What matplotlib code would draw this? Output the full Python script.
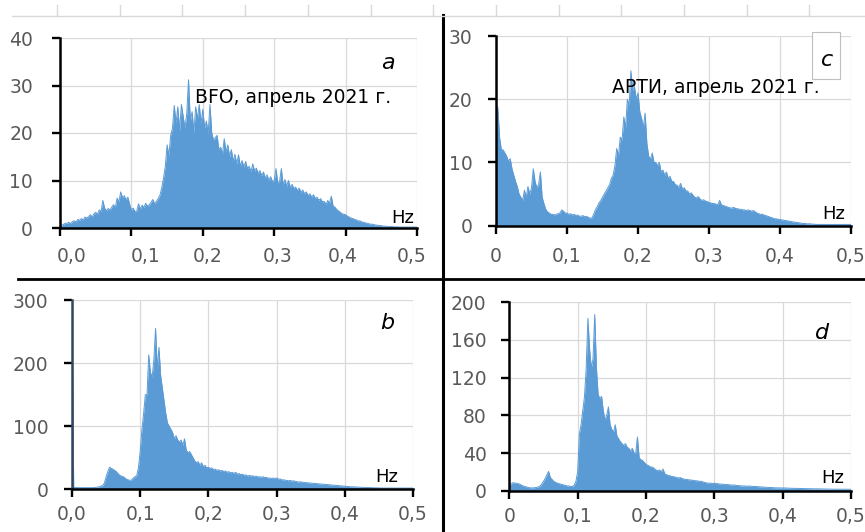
import matplotlib
matplotlib.use("Agg")
import matplotlib.pyplot as plt
import numpy as np
from matplotlib.lines import Line2D
from matplotlib.patches import Rectangle
from matplotlib.transforms import ScaledTranslation

plt.rcParams['font.family'] = ['DejaVu Sans']

# Spectral amplitude, sampled every 0.0025 Hz from 0 to 0.5 Hz
freq_step = 0.0025

amp_bfo = [
    0.3, 0.6, 0.8, 1.0, 1.0, 1.2, 0.9, 1.4,
    1.5, 1.3, 1.8, 1.6, 2.0, 1.7, 2.3, 2.1,
    2.4, 2.8, 2.3, 3.0, 3.3, 2.9, 3.8, 3.5,
    5.8, 4.2, 3.6, 4.1, 3.8, 4.4, 4.9, 4.3,
    6.3, 5.5, 7.6, 6.4, 6.8, 5.9, 6.5, 5.0,
    3.8, 4.2, 3.4, 3.6, 5.1, 4.0, 4.8, 4.3,
    5.2, 4.6, 4.9, 5.4, 6.0, 5.1, 5.6, 6.2,
    6.9, 8.5, 10.5, 13.0, 17.5, 15.2, 19.5, 21.0,
    25.8, 22.0, 25.5, 20.5, 26.0, 23.5, 21.0, 24.0,
    31.2, 22.5, 24.5, 20.0, 25.5, 23.0, 26.0, 22.0,
    25.0, 21.0, 22.5, 19.8, 26.0, 20.0, 18.5, 19.0,
    19.5, 16.5, 17.0, 15.5, 18.8, 16.0, 17.5, 15.0,
    16.5, 14.0, 15.5, 13.5, 15.4, 13.0, 14.2, 12.8,
    14.0, 12.5, 13.0, 11.8, 13.5, 12.0, 12.6, 11.5,
    12.1, 11.0, 11.8, 10.5, 11.2, 10.0, 10.8, 9.8,
    10.0, 12.5, 9.5, 9.8, 12.5, 9.0, 10.2, 8.8,
    10.0, 8.5, 9.2, 8.3, 8.6, 7.9, 8.4, 7.5,
    8.0, 7.2, 7.6, 6.8, 7.2, 6.5, 7.0, 6.2,
    6.5, 5.8, 6.2, 5.5, 5.6, 5.0, 5.8, 5.2,
    6.7, 4.6, 4.4, 3.9, 3.6, 3.3, 3.0, 2.9,
    2.8, 2.5, 2.3, 2.1, 2.0, 1.8, 1.7, 1.5,
    1.5, 1.3, 1.2, 1.1, 1.0, 0.9, 0.8, 0.8,
    0.7, 0.6, 0.6, 0.5, 0.5, 0.4, 0.4, 0.35,
    0.3, 0.3, 0.3, 0.25, 0.25, 0.25, 0.2, 0.2,
    0.2, 0.2, 0.2, 0.2, 0.2, 0.2, 0.2, 0.2,
    0.2,
]

amp_arti = [
    11.7, 18.8, 14.0, 12.0, 12.0, 11.5, 11.0, 10.2,
    10.6, 9.0, 8.0, 7.0, 6.2, 5.0, 4.5, 4.0,
    5.6, 4.5, 6.2, 5.0, 6.0, 9.0, 7.0, 6.0,
    6.5, 8.5, 4.5, 3.5, 2.6, 2.2, 2.0, 1.8,
    1.8, 1.7, 1.8, 1.9, 2.0, 2.5, 2.3, 2.0,
    2.0, 1.8, 1.9, 1.7, 1.8, 1.6, 1.7, 1.5,
    1.5, 1.6, 1.4, 1.5, 1.3, 1.2, 1.2, 1.8,
    2.5, 3.0, 3.6, 4.0, 4.5, 5.0, 5.5, 6.0,
    6.5, 7.5, 8.0, 9.5, 12.2, 11.0, 14.0, 13.5,
    17.2, 15.5, 20.0, 19.0, 24.5, 21.5, 22.0, 20.0,
    21.0, 18.0, 17.0, 15.5, 17.8, 13.0, 11.0, 10.5,
    11.5, 10.0, 10.0, 9.5, 10.0, 8.5, 8.8, 8.0,
    8.5, 7.5, 7.8, 7.0, 7.0, 6.5, 6.4, 6.0,
    6.7, 5.8, 6.0, 5.5, 5.5, 5.0, 5.2, 4.8,
    4.5, 4.4, 4.6, 4.2, 4.0, 4.1, 3.9, 3.8,
    3.7, 3.6, 3.5, 3.5, 3.4, 3.3, 4.0, 3.3,
    3.2, 3.1, 3.0, 2.9, 2.8, 2.8, 2.9, 2.7,
    2.7, 2.6, 2.6, 2.5, 2.5, 2.4, 2.5, 2.4,
    2.3, 2.4, 2.2, 2.0, 1.9, 1.8, 1.8, 1.7,
    1.6, 1.5, 1.4, 1.3, 1.2, 1.1, 1.1, 1.0,
    1.0, 0.9, 0.9, 0.8, 0.8, 0.7, 0.7, 0.6,
    0.6, 0.5, 0.5, 0.45, 0.4, 0.35, 0.35, 0.3,
    0.3, 0.3, 0.25, 0.25, 0.2, 0.2, 0.2, 0.2,
    0.2, 0.2, 0.2, 0.2, 0.2, 0.2, 0.2, 0.2,
    0.2, 0.2, 0.2, 0.2, 0.2, 0.2, 0.2, 0.2,
    0.2,
]

amp_b = [
    300.0, 3.0, 2.8, 2.6, 2.6, 2.5, 2.5, 2.5,
    2.5, 2.5, 2.5, 2.6, 2.6, 2.8, 3.0, 3.5,
    4.0, 5.0, 6.0, 10.0, 20.0, 28.0, 35.0, 33.0,
    32.0, 30.0, 28.0, 25.0, 22.0, 21.0, 20.0, 18.0,
    16.0, 15.0, 14.0, 15.0, 18.0, 20.0, 22.0, 35.0,
    60.0, 95.0, 120.0, 150.0, 150.0, 213.0, 185.0, 178.0,
    205.0, 255.0, 190.0, 225.0, 180.0, 160.0, 140.0, 120.0,
    105.0, 100.0, 95.0, 90.0, 80.0, 85.0, 78.0, 75.0,
    78.0, 70.0, 80.0, 62.0, 58.0, 60.0, 55.0, 50.0,
    45.0, 42.0, 44.0, 38.0, 42.0, 36.0, 38.0, 34.0,
    35.0, 33.0, 34.0, 31.0, 32.0, 30.0, 31.0, 29.0,
    30.0, 28.0, 29.0, 27.0, 28.0, 26.0, 27.0, 25.0,
    27.0, 24.0, 25.0, 23.0, 24.0, 22.0, 23.0, 21.0,
    22.0, 21.0, 21.5, 20.0, 21.0, 19.5, 20.0, 19.0,
    20.0, 18.5, 19.0, 17.5, 18.0, 17.0, 18.0, 16.5,
    18.0, 16.0, 16.5, 15.0, 15.0, 14.5, 14.0, 13.5,
    14.0, 13.0, 13.5, 12.5, 12.0, 11.5, 12.0, 11.0,
    11.0, 10.5, 10.5, 10.0, 10.0, 9.5, 9.5, 9.0,
    9.0, 8.5, 8.5, 8.0, 8.0, 7.5, 7.5, 7.0,
    7.0, 6.5, 6.5, 6.0, 6.0, 5.5, 5.5, 5.0,
    5.0, 4.5, 4.5, 4.0, 4.0, 3.8, 3.8, 3.5,
    3.5, 3.2, 3.2, 3.0, 3.0, 2.8, 2.8, 2.6,
    2.5, 2.4, 2.3, 2.2, 2.1, 2.0, 2.0, 2.0,
    2.0, 2.0, 2.0, 2.0, 2.0, 2.0, 2.0, 2.0,
    2.0, 2.0, 2.0, 2.0, 2.0, 2.0, 2.0, 2.0,
    2.0,
]

amp_d = [
    5.0, 7.0, 8.5, 8.0, 8.0, 7.5, 7.0, 6.0,
    5.0, 4.5, 4.0, 3.5, 3.0, 3.0, 3.0, 3.2,
    3.5, 4.0, 5.0, 7.0, 10.0, 13.0, 17.0, 20.5,
    14.0, 12.0, 10.0, 9.0, 8.0, 7.5, 7.0, 6.5,
    6.0, 5.5, 5.0, 5.0, 4.5, 4.5, 6.0, 10.0,
    20.0, 60.0, 70.0, 85.0, 100.0, 130.0, 183.0, 150.0,
    130.0, 140.0, 187.0, 130.0, 102.0, 98.0, 100.0, 85.0,
    75.0, 80.0, 89.0, 70.0, 65.0, 62.0, 70.0, 58.0,
    55.0, 52.0, 50.0, 48.0, 50.0, 46.0, 45.0, 42.0,
    45.0, 40.0, 40.0, 57.0, 35.0, 33.0, 32.0, 30.0,
    28.0, 27.0, 26.0, 25.0, 25.0, 23.0, 22.0, 21.0,
    22.0, 20.0, 23.0, 18.0, 17.0, 16.0, 16.0, 15.0,
    15.0, 14.5, 14.0, 13.5, 14.0, 13.0, 12.5, 12.0,
    12.0, 11.5, 11.5, 11.0, 11.0, 10.5, 10.5, 10.0,
    10.0, 9.5, 9.0, 8.5, 8.0, 8.0, 8.0, 7.5,
    8.0, 7.5, 7.5, 7.0, 7.0, 6.8, 6.5, 6.5,
    6.5, 6.2, 6.0, 6.0, 6.0, 5.5, 5.5, 5.2,
    5.0, 5.0, 5.0, 4.8, 5.0, 4.8, 4.6, 4.5,
    4.5, 4.3, 4.2, 4.0, 4.0, 3.8, 3.6, 3.5,
    3.5, 3.4, 3.2, 3.1, 3.0, 3.0, 3.0, 2.9,
    3.0, 2.9, 2.8, 2.7, 2.6, 2.6, 2.5, 2.5,
    2.5, 2.4, 2.4, 2.3, 2.3, 2.2, 2.2, 2.1,
    2.1, 2.0, 2.0, 2.0, 2.0, 1.9, 1.9, 1.8,
    1.8, 1.8, 1.7, 1.7, 1.7, 1.6, 1.6, 1.6,
    1.6, 1.5, 1.5, 1.5, 1.5, 1.5, 1.5, 1.5,
    1.5,
]

x_ticks = [0.0, 0.1, 0.2, 0.3, 0.4, 0.5]
x_labels_dec = ["0,0", "0,1", "0,2", "0,3", "0,4", "0,5"]
x_labels_int = ["0", "0,1", "0,2", "0,3", "0,4", "0,5"]

W, H = 865, 532
BLUE = "#5b9bd5"
GRID = "#d9d9d9"
TICK_TXT = "#595959"


def px_rect(x0, x1, y_bottom, y_top):
    return [x0 / W, 1 - y_bottom / H, (x1 - x0) / W, (y_bottom - y_top) / H]


panels = [
    dict(amp=amp_bfo, rect=px_rect(60, 417, 228, 38), ymax=40, ystep=10,
         xlabels=x_labels_dec, xshift=[12, 14, 5, 3, -3, -5],
         xpad=8, ypad=14, letter="a", letter_xy=(0.919, 0.868),
         hz_xy=(0.961, 0.053), title="BFO, апрель 2021 г.",
         title_xy=(0.378, 0.689), spine="black"),
    dict(amp=amp_arti, rect=px_rect(496, 851, 225.7, 36), ymax=30, ystep=10,
         xlabels=x_labels_int, xshift=None, xpad=10, ypad=11.5,
         letter="c", letter_xy=(0.932, 0.873),
         hz_xy=(0.952, 0.062), title="АРТИ, апрель 2021 г.",
         title_xy=(0.327, 0.731), spine="black", box=True),
    dict(amp=amp_b, rect=px_rect(72, 413, 489.3, 300), ymax=300, ystep=100,
         xlabels=x_labels_dec, xshift=None, xpad=5.5, ypad=11.5,
         letter="b", letter_xy=(0.924, 0.877),
         hz_xy=(0.924, 0.065), spine="#33465e"),
    dict(amp=amp_d, rect=px_rect(509.3, 851, 490.7, 302.3), ymax=200, ystep=40,
         xlabels=x_labels_int, xshift=None, xpad=6, ypad=10.8,
         letter="d", letter_xy=(0.915, 0.836),
         hz_xy=(0.947, 0.067), spine="black"),
]

fig = plt.figure(figsize=(W / 100, H / 100), dpi=100)

for p in panels:
    ax = fig.add_axes(p["rect"])
    amp = np.asarray(p["amp"])
    freqs = np.arange(len(amp)) * freq_step
    ax.fill_between(freqs, amp, 0, color=BLUE, lw=0, zorder=2)
    ax.plot(freqs, amp, color=BLUE, lw=0.7, zorder=2)

    ax.set_xlim(0, 0.5)
    ax.set_ylim(0, p["ymax"])
    ax.set_xticks(x_ticks)
    ax.set_xticklabels(p["xlabels"])
    ax.set_yticks(np.arange(0, p["ymax"] + 1, p["ystep"]))

    ax.grid(True, color=GRID, lw=0.9, zorder=0)
    ax.set_axisbelow(True)
    for side in ("top", "right"):
        ax.spines[side].set_visible(False)
    ax.spines["bottom"].set_color("black")
    ax.spines["bottom"].set_linewidth(1.8)
    ax.spines["left"].set_color(p["spine"])
    ax.spines["left"].set_linewidth(1.8)
    for s in ax.spines.values():
        s.set_zorder(3)
    ax.tick_params(direction="out", length=5.5, width=1.7, color="black",
                   labelsize=13.5, labelcolor=TICK_TXT)
    ax.tick_params(axis="x", pad=p["xpad"])
    ax.tick_params(axis="y", pad=p["ypad"])

    if p["xshift"]:
        for lab, dx in zip(ax.get_xticklabels(), p["xshift"]):
            lab.set_transform(lab.get_transform()
                              + ScaledTranslation(dx / 100, 0, fig.dpi_scale_trans))

    ax.text(*p["letter_xy"], p["letter"], transform=ax.transAxes,
            ha="center", va="center", fontsize=16, style="italic",
            color="black", zorder=5)
    ax.text(*p["hz_xy"], "Hz", transform=ax.transAxes, ha="center",
            va="center", fontsize=13, color="black", zorder=5)
    if "title" in p:
        ax.text(*p["title_xy"], p["title"], transform=ax.transAxes,
                ha="left", va="center", fontsize=13.5, color="black", zorder=5)
    if p.get("box"):
        ax.add_patch(Rectangle((0.890, 0.773), 0.079, 0.248,
                               transform=ax.transAxes, facecolor="white",
                               edgecolor="#bfbfbf", lw=0.8, clip_on=False,
                               zorder=4))

# Panel separators
fig.add_artist(Line2D([442.5 / W, 442.5 / W], [1 - 15 / H, 0],
                      color="black", lw=2.2, transform=fig.transFigure))
fig.add_artist(Line2D([18 / W, 1], [1 - 279 / H, 1 - 279 / H],
                      color="black", lw=2.0, transform=fig.transFigure))

# Axis strip of the chart above, cut at the top edge
fig.add_artist(Line2D([12 / W, 1], [1 - 16 / H, 1 - 16 / H],
                      color=GRID, lw=1.0, transform=fig.transFigure))
for tx in np.arange(57, W, 62.7):
    fig.add_artist(Line2D([tx / W, tx / W], [1 - 5 / H, 1 - 16 / H],
                          color=GRID, lw=1.0, transform=fig.transFigure))

fig.savefig("out.png", dpi=100)
